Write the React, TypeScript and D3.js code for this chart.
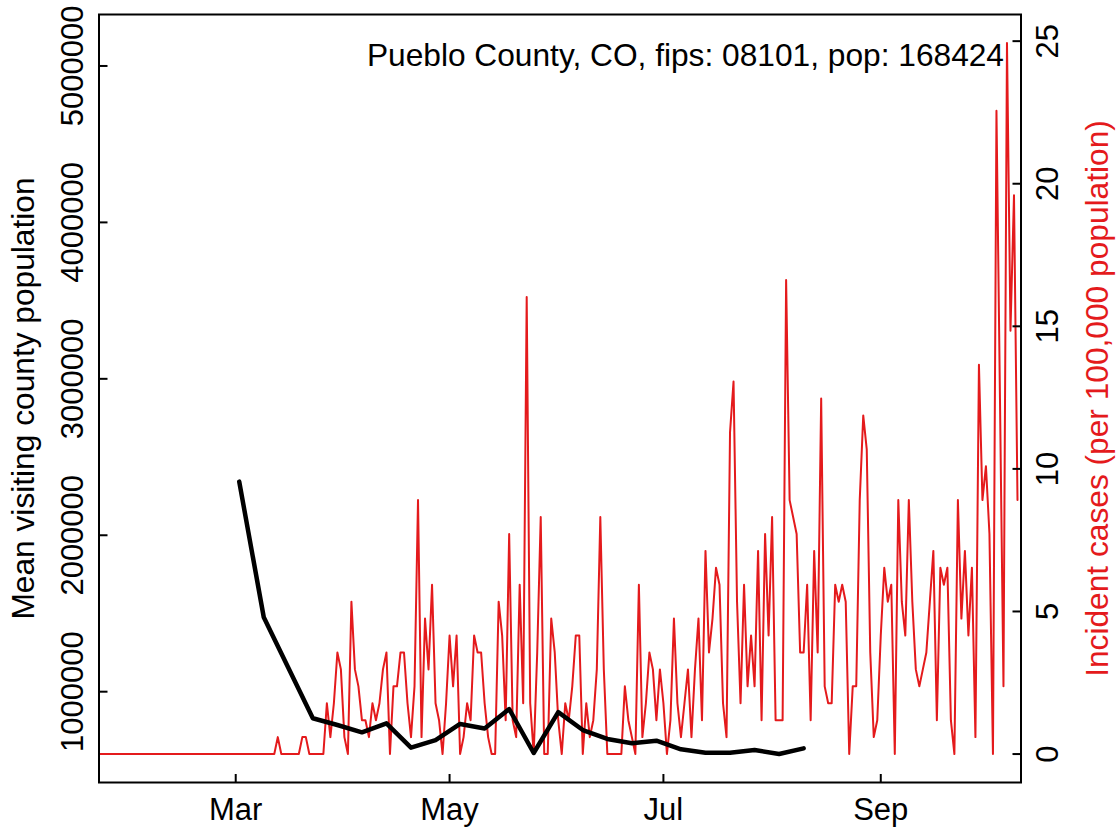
import React from 'react';
import * as d3 from 'd3';

// ---------- data ----------
const POPULATION = 168424;
const TITLE = 'Pueblo County, CO, fips: 08101, pop: 168424';
const caseStartDate = '2020-01-22';
const axisEndDate = '2020-10-11';
// daily new cases (county), from 2020-01-22
const dailyCases = [
  0, 0, 0, 0, 0, 0, 0, 0, 0, 0,
  0, 0, 0, 0, 0, 0, 0, 0, 0, 0,
  0, 0, 0, 0, 0, 0, 0, 0, 0, 0,
  0, 0, 0, 0, 0, 0, 0, 0, 0, 0,
  0, 0, 0, 0, 0, 0, 0, 0, 0, 0,
  0, 1, 0, 0, 0, 0, 0, 0, 1, 1,
  0, 0, 0, 0, 0, 3, 1, 3, 6, 5,
  1, 0, 9, 5, 4, 2, 2, 1, 3, 2,
  3, 5, 6, 0, 4, 4, 6, 6, 3, 1,
  4, 15, 1, 8, 5, 10, 3, 2, 0, 3,
  7, 4, 7, 0, 1, 3, 2, 7, 6, 6,
  3, 1, 0, 0, 9, 7, 2, 13, 2, 1,
  10, 3, 27, 3, 0, 6, 14, 0, 0, 8,
  6, 2, 0, 3, 2, 4, 7, 7, 0, 3,
  1, 2, 5, 14, 5, 0, 0, 0, 0, 0,
  4, 2, 1, 0, 10, 1, 3, 6, 5, 2,
  5, 3, 0, 2, 8, 3, 1, 3, 5, 1,
  5, 8, 2, 12, 6, 8, 11, 10, 3, 1,
  19, 22, 9, 3, 10, 4, 7, 4, 12, 2,
  13, 7, 14, 2, 2, 2, 28, 15, 14, 13,
  6, 6, 10, 2, 12, 6, 21, 4, 3, 3,
  10, 9, 10, 9, 0, 4, 4, 15, 20, 18,
  6, 1, 2, 7, 11, 9, 10, 0, 15, 9,
  7, 15, 9, 5, 4, 5, 6, 9, 12, 2,
  11, 10, 11, 2, 0, 15, 8, 12, 7, 11,
  1, 23, 15, 17, 13, 0, 38, 21, 4, 42,
  25, 33, 15,
];
// weekly mean visiting county population, from 2020-03-02
const mobilityStartDate = '2020-03-02';
const mobilityValues = [
  2343000, 1476000, 1153000, 830000, 787000, 740000, 798000, 642000,
  691000, 794000, 765000, 889000, 608000, 869000, 755000, 698000,
  670000, 687000, 632000, 610000, 610000, 627000, 602000, 638000,
];
const leftAxisLimits = [419500, 5329000];
const leftTicks = [1000000, 2000000, 3000000, 4000000, 5000000];
const rightTicks = [0, 5, 10, 15, 20, 25];
const monthTickDates = ['2020-03-01', '2020-05-01', '2020-07-01', '2020-09-01'];
const monthTickLabels = ['Mar', 'May', 'Jul', 'Sep'];

// ---------- layout ----------
const W = 1119;
const H = 831;
const L = 99;
const R = 1021;
const T = 14.5;
const B = 782.5;
const RED = '#e41a1c';
const FONT = "'Liberation Sans', Arial, Helvetica, sans-serif";
const FS = 31;
const FS_LAB = 31.7;
const TICK = 8.5;

const parse = (s: string) => new Date(s + 'T00:00:00Z');

export default function App() {
  const x = d3.scaleUtc().domain([parse(caseStartDate), parse(axisEndDate)]).range([L, R]);
  const start = parse(caseStartDate);
  const incidence = dailyCases.map((c, i) => ({
    date: d3.utcDay.offset(start, i),
    value: (c / POPULATION) * 100000,
  }));
  const maxInc = d3.max(incidence, (d) => d.value) as number;
  const yR = d3.scaleLinear().domain([-0.04 * maxInc, 1.04 * maxInc]).range([B, T]);
  const yL = d3.scaleLinear().domain(leftAxisLimits).range([B, T]);
  const mStart = parse(mobilityStartDate);
  const mobility = mobilityValues.map((v, i) => ({ date: d3.utcDay.offset(mStart, i * 7), value: v }));

  const redLine = d3
    .line<{ date: Date; value: number }>()
    .x((d) => x(d.date))
    .y((d) => yR(d.value))(incidence) as string;
  const blackLine = d3
    .line<{ date: Date; value: number }>()
    .x((d) => x(d.date))
    .y((d) => yL(d.value))(mobility) as string;

  return (
    <svg
      width={W}
      height={H}
      style={{ position: 'absolute', left: 0, top: 0, background: '#fff' }}
      fontFamily={FONT}
      fontSize={FS}
    >
      <rect x={0} y={0} width={W} height={H} fill="#fff" />
      <path d={redLine} fill="none" stroke={RED} strokeWidth={2} strokeLinejoin="round" strokeLinecap="round" />
      <path d={blackLine} fill="none" stroke="#000" strokeWidth={4.5} strokeLinejoin="round" strokeLinecap="round" />
      <rect x={L} y={T} width={R - L} height={B - T} fill="none" stroke="#000" strokeWidth={2} />

      {/* left axis */}
      {leftTicks.map((v) => (
        <g key={'l' + v}>
          <line x1={L} x2={L + TICK} y1={yL(v)} y2={yL(v)} stroke="#000" strokeWidth={2} />
          <text transform={`translate(83,${yL(v)}) rotate(-90)`} textAnchor="middle">
            {String(v)}
          </text>
        </g>
      ))}
      <text transform={`translate(34,${(T + B) / 2}) rotate(-90)`} textAnchor="middle" fontSize={FS_LAB}>
        Mean visiting county population
      </text>

      {/* right axis */}
      {rightTicks.map((v) => (
        <g key={'r' + v}>
          <line x1={R - TICK} x2={R} y1={yR(v)} y2={yR(v)} stroke="#000" strokeWidth={2} />
          <text transform={`translate(1058,${yR(v)}) rotate(-90)`} textAnchor="middle">
            {String(v)}
          </text>
        </g>
      ))}
      <text transform={`translate(1108,${(T + B) / 2}) rotate(-90)`} textAnchor="middle" fill={RED} fontSize={FS_LAB}>
        Incident cases (per 100,000 population)
      </text>

      {/* bottom axis */}
      {monthTickDates.map((d, i) => (
        <g key={d}>
          <line x1={x(parse(d))} x2={x(parse(d))} y1={B} y2={B - TICK} stroke="#000" strokeWidth={2} />
          <text x={x(parse(d))} y={820} textAnchor="middle">
            {monthTickLabels[i]}
          </text>
        </g>
      ))}

      <text x={1004} y={66} textAnchor="end" fontSize={FS_LAB}>
        {TITLE}
      </text>
    </svg>
  );
}
